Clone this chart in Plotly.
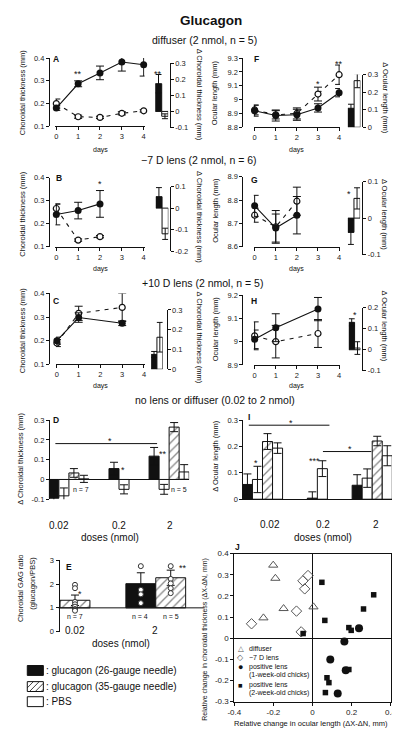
import plotly.graph_objects as go

W, H = 400, 729
FONT = "Liberation Sans, Arial, DejaVu Sans, sans-serif"
INK = "#111111"
GRAY = "#555555"

# ======================= DATA =======================
day_ticks = [0, 1, 2, 3, 4]
day_labels = ["0", "1", "2", "3", "4"]

# --- A: diffuser, choroidal thickness (mm)
A_days = [0, 1, 2, 3, 4]
A_glu = [0.180, 0.287, 0.335, 0.383, 0.371]
A_glu_err = [0.010, 0.013, 0.030, 0.040, 0.050]
A_pbs = [0.200, 0.142, 0.139, 0.157, 0.168]
A_pbs_err = [0.020, 0.007, 0.005, 0.007, 0.005]
A_yt = [0.1, 0.2, 0.3, 0.4]
A_ytl = ["0.1", "0.2", "0.3", "0.4"]
A_stars = [(1, 0.339, "**"), (2, 0.415, "***"), (3, 0.441, "***"), (4, 0.432, "***")]
A_delta = [0.172, -0.030]
A_delta_err = [0.057, 0.015]
A_dyt = [-0.1, 0, 0.1, 0.2, 0.3]
A_dytl = ["-0.1", "0", "0.1", "0.2", "0.3"]
A_dstars = [(-0.15, 0.246, "**")]

# --- F: diffuser, ocular length (mm)
F_days = [0, 1, 2, 3, 4]
F_glu = [8.920, 8.885, 8.890, 8.940, 9.050]
F_glu_err = [0.040, 0.040, 0.040, 0.030, 0.030]
F_pbs = [8.925, 8.890, 8.900, 9.040, 9.180]
F_pbs_err = [0.035, 0.030, 0.040, 0.050, 0.070]
F_yt = [8.8, 8.9, 9.0, 9.1, 9.2, 9.3]
F_ytl = ["8.8", "8.9", "9", "9.1", "9.2", "9.3"]
F_stars = [(3, 9.13, "*"), (4, 9.27, "**")]
F_delta = [0.108, 0.265]
F_delta_err = [0.023, 0.040]
F_dyt = [0, 0.1, 0.2, 0.3]
F_dytl = ["0", "0.1", "0.2", "0.3"]
F_dstars = [(-0.1, 0.309, "*")]

# --- B: -7 D lens, choroidal thickness
B_days = [0, 1, 2]
B_glu = [0.240, 0.257, 0.286]
B_glu_err = [0.045, 0.036, 0.058]
B_pbs = [0.266, 0.129, 0.144]
B_pbs_err = [0.020, 0.005, 0.005]
B_stars = [(2, 0.379, "*")]
B_delta = [0.053, -0.119]
B_delta_err = [0.042, 0.026]
B_dyt = [-0.2, -0.1, 0, 0.1]
B_dytl = ["-0.2", "-0.1", "0", "0.1"]
B_dstars = [(0.95, 0.14, "**")]

# --- G: -7 D lens, ocular length
G_days = [0, 1, 2]
G_glu = [8.775, 8.680, 8.735]
G_glu_err = [0.045, 0.060, 0.080]
G_pbs = [8.735, 8.685, 8.795]
G_pbs_err = [0.030, 0.070, 0.060]
G_yt = [8.6, 8.7, 8.8, 8.9]
G_ytl = ["8.6", "8.7", "8.8", "8.9"]
G_stars = []
G_delta = [-0.039, 0.054]
G_delta_err = [0.033, 0.029]
G_dyt = [-0.1, 0, 0.1]
G_dytl = ["-0.1", "0", "0.1"]
G_dstars = [(-0.35, 0.072, "*")]

# --- C: +10 D lens, choroidal thickness
C_days = [0, 1, 3]
C_glu = [0.200, 0.298, 0.274]
C_glu_err = [0.015, 0.020, 0.010]
C_pbs = [0.190, 0.316, 0.341]
C_pbs_err = [0.015, 0.030, 0.060]
C_stars = []
C_delta = [0.075, 0.162]
C_delta_err = [0.015, 0.075]
C_dyt = [0, 0.1, 0.2, 0.3]
C_dytl = ["0", "0.1", "0.2", "0.3"]
C_dstars = []

# --- H: +10 D lens, ocular length
H_days = [0, 1, 3]
H_glu = [9.010, 9.060, 9.140]
H_glu_err = [0.040, 0.060, 0.050]
H_pbs = [9.025, 9.000, 9.035]
H_pbs_err = [0.060, 0.070, 0.060]
H_yt = [8.9, 9.0, 9.1, 9.2]
H_ytl = ["8.9", "9", "9.1", "9.2"]
H_stars = []
H_delta = [0.130, 0.008]
H_delta_err = [0.017, 0.030]
H_dyt = [-0.1, 0, 0.1, 0.2]
H_dytl = ["-0.1", "0", "0.1", "0.2"]
H_dstars = [(0.65, 0.174, "*")]

# --- D: dose response, delta choroidal thickness (mm)
doses3 = ["0.02", "0.2", "2"]
D_glu26 = [-0.095, 0.055, 0.118]
D_glu26_err = [0.038, 0.032, 0.044]
D_pbs26 = [-0.083, -0.050, -0.050]
D_pbs26_err = [0.040, 0.023, 0.025]
D_glu35 = [0.033, None, 0.265]
D_glu35_err = [0.022, 0, 0.023]
D_pbs35 = [0.003, None, 0.038]
D_pbs35_err = [0.018, 0, 0.037]
D_yt = [-0.1, 0, 0.1, 0.2, 0.3]
D_ytl = ["-0.1", "0", "0.1", "0.2", "0.3"]
D_stars = [(1.08, 0.058, "*"), (1.87, 0.1415, "**"), (2.48, 0.2765, "**"),
           (0.82, 0.2065, "*"), (1.145, 0.333, "**")]
D_siglines = [(-0.27, 1.76, 0.1815), (0.24, 2.21, 0.32)]
D_nlabels = [(-0.32, -0.155, "n = 7"), (0.236, -0.05, "n = 7"), (1.01, -0.117, "n = 5"),
             (1.758, -0.117, "n = 4"), (2.207, -0.05, "n = 5")]

# --- I: dose response, delta ocular length (mm)
I_glu26 = [0.056, 0.004, 0.053]
I_glu26_err = [0.040, 0.024, 0.040]
I_pbs26 = [0.075, 0.116, 0.080]
I_pbs26_err = [0.050, 0.030, 0.035]
I_glu35 = [0.219, None, 0.221]
I_glu35_err = [0.030, 0, 0.018]
I_pbs35 = [0.194, None, 0.165]
I_pbs35_err = [0.020, 0, 0.038]
I_yt = [0, 0.1, 0.2, 0.3]
I_ytl = ["0", "0.1", "0.2", "0.3"]
I_stars = [(-0.12, 0.146, "*"), (0.956, 0.152, "***"), (0.527, 0.296, "*"), (1.603, 0.2, "*")]
I_siglines = [(-0.249, 1.22, 0.281), (1.102, 1.984, 0.181)]
I_nlabels = [(-0.16, -0.0315, "n = 7"), (0.263, -0.0315, "n = 7"), (1.132, -0.021, "n = 5"),
             (1.78, -0.0315, "n = 4"), (2.13, -0.0315, "n = 5")]

# --- E: choroidal GAG ratio (glucagon/PBS)
doses2 = ["0.02", "2"]
E_glu26 = [None, 2.02]
E_glu26_err = [0, 0.46]
E_glu35 = [1.32, 2.27]
E_glu35_err = [0.22, 0.32]
E_pts_002_35 = [1.97, 1.83, 1.25, 1.15, 1.05, 0.95, 0.88]
E_pts_2_26 = [2.76, 1.76, 1.57, 1.20]
E_pts_2_35 = [2.76, 2.22, 2.03, 1.83, 1.62]
E_yt = [0, 1, 2, 3]
E_ytl = ["0", "1", "2", "3"]
E_stars = [(0.056, 1.65, "*"), (0.895, 1.72, "*"), (1.333, 2.76, "**")]
E_nlabels = [(0.0, 0.65, "n = 7"), (0.806, 0.65, "n = 4"), (1.194, 0.65, "n = 5")]

# --- J: relative change scatter
J_diff_x = [-0.201, -0.190, -0.148, -0.251, 0.005]
J_diff_y = [0.345, 0.283, 0.140, 0.096, 0.148]
J_neg7_x = [-0.023, -0.049, -0.040, -0.082, -0.312, -0.058]
J_neg7_y = [0.296, 0.271, 0.233, 0.128, 0.068, 0.030]
J_pos1_x = [0.163, 0.238, 0.091, 0.170, 0.129]
J_pos1_y = [-0.016, 0.047, -0.101, -0.152, -0.261]
J_pos2_x = [0.048, 0.313, 0.261, 0.063, 0.186, 0.198, -0.048, 0.074, 0.084, 0.186, 0.066]
J_pos2_y = [0.264, 0.205, 0.138, 0.084, 0.050, 0.037, 0.022, -0.187, -0.210, -0.148, -0.257]
J_xt = [-0.4, -0.2, 0, 0.2, 0.4]
J_xtl = ["-0.4", "-0.2", "0", "0.2", "0.4"]
J_yt = [-0.3, -0.2, -0.1, 0, 0.1, 0.2, 0.3, 0.4]
J_ytl = ["-0.3", "-0.2", "-0.1", "0", "0.1", "0.2", "0.3", "0.4"]

# ======================= FIGURE =======================
fig = go.Figure()
layout = {}
ann = []
shapes = []
_n = [0]


def new_pair():
    _n[0] += 1
    return "" if _n[0] == 1 else str(_n[0])


def tfont(size=7.5, color="#222222"):
    return dict(family=FONT, size=size, color=color)


def axis_common(size=7.5):
    return dict(showgrid=False, zeroline=False, showline=True, linecolor=INK, linewidth=1,
                ticks="outside", ticklen=3, tickwidth=1, tickcolor=INK, tickfont=tfont(size),
                fixedrange=True, tickmode="array")


def ydom(top, bot):
    return [1 - bot / H, 1 - top / H]


def txt(x, y, text, size=7.5, angle=0, bold=False, xanchor="center", yanchor="middle", color="#111111"):
    ann.append(dict(x=x / W, y=1 - y / H, xref="paper", yref="paper",
                    text=f"<b>{text}</b>" if bold else text, showarrow=False,
                    font=dict(family=FONT, size=size, color=color), textangle=angle,
                    xanchor=xanchor, yanchor=yanchor))


def dtxt(s, x, y, text, size=9, yshift=-2):
    ann.append(dict(x=x, y=y, xref="x" + s, yref="y" + s, text=text, showarrow=False,
                    font=dict(family=FONT, size=size, color="#111111"), yshift=yshift))


def line_panel(g, days, glu, glu_err, pbs, pbs_err, yt, ytl, stars):
    s = new_pair()
    ppd = (g["x4"] - g["x0"]) / 4
    pad = 0.04
    xa = axis_common()
    xa.update(domain=[(g["x0"] - pad * ppd) / W, (g["x4"] + pad * ppd) / W], range=[-pad, 4 + pad],
              tickvals=day_ticks, ticktext=day_labels, anchor="y" + s)
    ya = axis_common()
    ya.update(domain=ydom(g["ytop"], g["ybot"]), range=g["yr"], tickvals=yt, ticktext=ytl,
              anchor="free", position=g["yax"] / W)
    layout["xaxis" + s] = xa
    layout["yaxis" + s] = ya
    fig.add_trace(go.Scatter(
        x=days, y=pbs, mode="lines+markers", xaxis="x" + s, yaxis="y" + s, cliponaxis=False,
        error_y=dict(type="data", array=pbs_err, color=INK, thickness=1, width=4),
        line=dict(color=INK, width=1.1, dash="4px,5px"),
        marker=dict(symbol="circle", size=6, color="white", line=dict(color=INK, width=1.2)),
        showlegend=False, hoverinfo="skip"))
    fig.add_trace(go.Scatter(
        x=days, y=glu, mode="lines+markers", xaxis="x" + s, yaxis="y" + s, cliponaxis=False,
        error_y=dict(type="data", array=glu_err, color=INK, thickness=1, width=4),
        line=dict(color=INK, width=1.1),
        marker=dict(symbol="circle", size=7, color=INK),
        showlegend=False, hoverinfo="skip"))
    for (xx, yy, t) in stars:
        dtxt(s, xx, yy, t)


def inset(g, vals, errs, yt, ytl, stars):
    s = new_pair()
    layout["xaxis" + s] = dict(domain=[g["bx0"] / W, g["bx1"] / W], range=[-0.5, 1.5], visible=False,
                               anchor="y" + s, fixedrange=True)
    ya = axis_common()
    ya.update(domain=ydom(g["ytop"], g["ybot"]), range=g["yr"], tickvals=yt, ticktext=ytl,
              side="right", anchor="free", position=g["ax"] / W)
    layout["yaxis" + s] = ya
    fig.add_trace(go.Bar(
        x=[0, 1], y=vals, width=1, xaxis="x" + s, yaxis="y" + s, cliponaxis=False,
        marker=dict(color=[INK, "white"], line=dict(color=INK, width=1)),
        error_y=dict(type="data", array=errs, color=INK, thickness=1, width=3),
        showlegend=False, hoverinfo="skip"))
    for (xx, yy, t) in stars:
        dtxt(s, xx, yy, t)


# ---------- line panels + insets ----------
geo_line = {
    "A": dict(x0=42.7, x4=133, yax=35, ytop=46.7, ybot=115.7, yr=[0.1, 0.4]),
    "F": dict(x0=247.7, x4=335, yax=235, ytop=46.7, ybot=116.7, yr=[8.8, 9.3]),
    "B": dict(x0=42.7, x4=133, yax=35, ytop=167.7, ybot=237.7, yr=[0.1, 0.4]),
    "G": dict(x0=247.7, x4=335, yax=235, ytop=166.7, ybot=237.7, yr=[8.6, 8.9]),
    "C": dict(x0=43.3, x4=133.3, yax=35, ytop=285, ybot=356.7, yr=[0.1, 0.4]),
    "H": dict(x0=247.7, x4=335, yax=235, ytop=286.7, ybot=357.3, yr=[8.9, 9.2]),
}
geo_inset = {
    "A": dict(bx0=145, bx1=158.3, ax=160, ytop=51.7, ybot=117, yr=[-0.1, 0.3]),
    "F": dict(bx0=344, bx1=357, ax=359, ytop=63.3, ybot=116.7, yr=[0, 0.3]),
    "B": dict(bx0=145.5, bx1=158.5, ax=160, ytop=176.7, ybot=242.3, yr=[-0.2, 0.1]),
    "G": dict(bx0=344, bx1=356.7, ax=359, ytop=171.7, ybot=245.7, yr=[-0.1, 0.1]),
    "C": dict(bx0=140.7, bx1=152.7, ax=156.7, ytop=301.7, ybot=361.7, yr=[0, 0.3]),
    "H": dict(bx0=345, bx1=357, ax=359, ytop=299.3, ybot=363.3, yr=[-0.1, 0.2]),
}

line_panel(geo_line["A"], A_days, A_glu, A_glu_err, A_pbs, A_pbs_err, A_yt, A_ytl, A_stars)
inset(geo_inset["A"], A_delta, A_delta_err, A_dyt, A_dytl, A_dstars)
line_panel(geo_line["F"], F_days, F_glu, F_glu_err, F_pbs, F_pbs_err, F_yt, F_ytl, F_stars)
inset(geo_inset["F"], F_delta, F_delta_err, F_dyt, F_dytl, F_dstars)
line_panel(geo_line["B"], B_days, B_glu, B_glu_err, B_pbs, B_pbs_err, A_yt, A_ytl, B_stars)
inset(geo_inset["B"], B_delta, B_delta_err, B_dyt, B_dytl, B_dstars)
line_panel(geo_line["G"], G_days, G_glu, G_glu_err, G_pbs, G_pbs_err, G_yt, G_ytl, G_stars)
inset(geo_inset["G"], G_delta, G_delta_err, G_dyt, G_dytl, G_dstars)
line_panel(geo_line["C"], C_days, C_glu, C_glu_err, C_pbs, C_pbs_err, A_yt, A_ytl, C_stars)
inset(geo_inset["C"], C_delta, C_delta_err, C_dyt, C_dytl, C_dstars)
line_panel(geo_line["H"], H_days, H_glu, H_glu_err, H_pbs, H_pbs_err, H_yt, H_ytl, H_stars)
inset(geo_inset["H"], H_delta, H_delta_err, H_dyt, H_dytl, H_dstars)


# ---------- grouped dose bar panels ----------
def slot_positions(series_list, w):
    """x positions for each series: bars present in a group are centred on the group."""
    ngroups = len(series_list[0])
    pos = [[None] * ngroups for _ in series_list]
    for gi in range(ngroups):
        present = [si for si, ser in enumerate(series_list) if ser[gi] is not None]
        k = len(present)
        for j, si in enumerate(present):
            pos[si][gi] = gi + (j - (k - 1) / 2) * w
    return pos


def bar_style(kind):
    if kind == "black":
        return dict(color=INK, line=dict(color=INK, width=1))
    if kind == "hatch":
        return dict(color="white", line=dict(color=INK, width=1),
                    pattern=dict(shape="/", fgcolor=INK, bgcolor="white", size=6, solidity=0.22))
    return dict(color="white", line=dict(color=INK, width=1))


def dose_panel(g, series, errs, kinds, yt, ytl, w, base=None, bottom_line=False, zeroline=False):
    s = new_pair()
    xa = dict(domain=[g["x0"] / W, g["x1"] / W], range=g["xr"], anchor="y" + s, fixedrange=True,
              showgrid=False, zeroline=False, showticklabels=False, ticks="",
              showline=bottom_line, linecolor=INK, linewidth=1)
    ya = axis_common()
    ya.update(domain=ydom(g["ytop"], g["ybot"]), range=g["yr"], tickvals=yt, ticktext=ytl,
              anchor="free", position=g["yax"] / W, zeroline=zeroline, zerolinecolor=INK,
              zerolinewidth=1)
    layout["xaxis" + s] = xa
    layout["yaxis" + s] = ya
    pos = slot_positions(series, w)
    for ser, er, kind, xs in zip(series, errs, kinds, pos):
        xv = [x for x, v in zip(xs, ser) if v is not None]
        yv = [v for v in ser if v is not None]
        ev = [e for e, v in zip(er, ser) if v is not None]
        if base is not None:
            yv = [v - base for v in yv]
        fig.add_trace(go.Bar(
            x=xv, y=yv, width=w, base=base, xaxis="x" + s, yaxis="y" + s, cliponaxis=False,
            marker=bar_style(kind),
            error_y=dict(type="data", array=ev, color=INK, thickness=1, width=4),
            showlegend=False, hoverinfo="skip"))
    return s, pos


geoD = dict(x0=35, x1=180, xr=[-0.4, 2.4], yax=35, ytop=413.3, ybot=493.3, yr=[-0.1, 0.3])
sD, _ = dose_panel(geoD, [D_glu26, D_pbs26, D_glu35, D_pbs35],
                   [D_glu26_err, D_pbs26_err, D_glu35_err, D_pbs35_err],
                   ["black", "white", "hatch", "white"], D_yt, D_ytl, 0.2, zeroline=True)
for (x0, x1, yy) in D_siglines:
    shapes.append(dict(type="line", xref="x" + sD, yref="y" + sD, x0=x0, x1=x1, y0=yy, y1=yy,
                       line=dict(color=INK, width=1)))
for (xx, yy, t) in D_stars:
    dtxt(sD, xx, yy, t)
for (xx, yy, t) in D_nlabels:
    dtxt(sD, xx, yy, t, size=7, yshift=0)

geoI = dict(x0=235, x1=392, xr=[-0.367, 2.402], yax=235, ytop=413.3, ybot=493.3, yr=[0, 0.3])
sI, _ = dose_panel(geoI, [I_glu26, I_pbs26, I_glu35, I_pbs35],
                   [I_glu26_err, I_pbs26_err, I_glu35_err, I_pbs35_err],
                   ["black", "white", "hatch", "white"], I_yt, I_ytl, 0.183, bottom_line=True)
for (x0, x1, yy) in I_siglines:
    shapes.append(dict(type="line", xref="x" + sI, yref="y" + sI, x0=x0, x1=x1, y0=yy, y1=yy,
                       line=dict(color=INK, width=1)))
for (xx, yy, t) in I_stars:
    dtxt(sI, xx, yy, t)
for (xx, yy, t) in I_nlabels:
    dtxt(sI, xx, yy, t, size=7, yshift=0)

geoE = dict(x0=45, x1=195, xr=[-0.2036, 1.593], yax=45, ytop=555.3, ybot=627.3, yr=[0, 3])
wE = 0.37
sE, posE = dose_panel(geoE, [E_glu26, E_glu35], [E_glu26_err, E_glu35_err], ["black", "hatch"],
                      E_yt, E_ytl, wE, base=1)
shapes.append(dict(type="line", xref="x" + sE + " domain", yref="y" + sE, x0=0, x1=1, y0=1, y1=1,
                   line=dict(color=INK, width=1)))
pt_groups = [(posE[1][0], E_pts_002_35), (posE[0][1], E_pts_2_26), (posE[1][1], E_pts_2_35)]
for xc, pts in pt_groups:
    fig.add_trace(go.Scatter(
        x=[xc] * len(pts), y=pts, mode="markers", xaxis="x" + sE, yaxis="y" + sE, cliponaxis=False,
        marker=dict(symbol="circle", size=5, color="white", line=dict(color="#333333", width=1)),
        showlegend=False, hoverinfo="skip"))
for (xx, yy, t) in E_stars:
    dtxt(sE, xx, yy, t)
for (xx, yy, t) in E_nlabels:
    dtxt(sE, xx, yy, t, size=7, yshift=0)

# ---------- J scatter ----------
sJ = new_pair()
xaJ = axis_common(8)
xaJ.update(domain=[226.7 / W, 388.3 / W], range=[-0.4, 0.4], tickvals=J_xt, ticktext=J_xtl,
           mirror=True, zeroline=True, zerolinecolor=INK, zerolinewidth=1, anchor="y" + sJ)
yaJ = axis_common(8)
yaJ.update(domain=ydom(548.3, 698.3), range=[-0.3, 0.4], tickvals=J_yt, ticktext=J_ytl,
           mirror=True, zeroline=True, zerolinecolor=INK, zerolinewidth=1, anchor="x" + sJ)
layout["xaxis" + sJ] = xaJ
layout["yaxis" + sJ] = yaJ
j_series = [
    (J_diff_x, J_diff_y, dict(symbol="triangle-up-open", size=8, color=GRAY, line=dict(width=1))),
    (J_neg7_x, J_neg7_y, dict(symbol="diamond-open", size=8, color=GRAY, line=dict(width=1))),
    (J_pos1_x, J_pos1_y, dict(symbol="circle", size=8, color=INK)),
    (J_pos2_x, J_pos2_y, dict(symbol="square", size=5.5, color=INK)),
]
for xs, ys, mk in j_series:
    fig.add_trace(go.Scatter(x=xs, y=ys, mode="markers", marker=mk, xaxis="x" + sJ, yaxis="y" + sJ,
                             cliponaxis=False, showlegend=False, hoverinfo="skip"))

# ======================= TEXT =======================
txt(203, 9, "Glucagon", size=13.5, bold=True)
txt(196, 28, "diffuser (2 nmol, n = 5)", size=10.5)
txt(190, 150, "\u22127 D lens (2 nmol, n = 6)", size=10.5)
txt(194, 274, "+10 D lens (2 nmol, n = 5)", size=10.5)
txt(207, 393.3, "no lens or diffuser (0.02 to 2 nmol)", size=10.5)

for letter, x, y in [("A", 42, 48), ("F", 250, 48), ("B", 45, 168.3), ("G", 247.5, 170),
                     ("C", 42, 292.7), ("H", 247.5, 292.7), ("D", 42, 413.3), ("I", 241.7, 410),
                     ("E", 56, 561.7), ("J", 230, 541.7)]:
    txt(x, y, letter, size=8.5, bold=True)

for x, y in [(88.3, 139.3), (291, 140), (88.3, 260), (291, 260), (88.3, 379), (291, 379)]:
    txt(x, y, "days", size=7)

for y in [81, 204, 322]:
    txt(7.5, y, "Choroidal thickness (mm)", size=7.5, angle=-90)
for y in [82, 201, 321]:
    txt(207, y, "Ocular length (mm)", size=7.5, angle=-90)
for y in [84, 208, 330]:
    txt(190.5, y, "\u0394 Choroidal thickness (mm)", size=7.5, angle=90)
for y in [87, 205, 318]:
    txt(382, y, "\u0394 Ocular length (mm)", size=7.5, angle=90)

txt(5.5, 452, "\u0394 Choroidal thickness (mm)", size=7.5, angle=-90)
txt(207, 450, "\u0394 Ocular length (mm)", size=7.5, angle=-90)
txt(6.5, 583, "Choroidal GAG ratio", size=7.5, angle=-90)
txt(18.5, 578, "(glucagon/PBS)", size=7.5, angle=-90)

dose_x_D = [45, 107.5, 160]
dose_x_I = [263.3, 318.3, 373.3]
for d, x in zip(doses3, dose_x_D):
    txt(x, 520, d, size=10)
for d, x in zip(doses3, dose_x_I):
    txt(x, 519, d, size=10)
for d, x in zip(doses2, [61.7, 145]):
    txt(x, 626.7, d, size=10)
txt(98.3, 531.7, "doses (nmol)", size=10)
txt(318.3, 532.3, "doses (nmol)", size=10)
txt(110, 639, "doses (nmol)", size=10)

txt(306, 720.7, "Relative change in ocular length (\u0394X-\u0394N, mm)", size=7.5)
txt(197, 635, "Relative change in choroidal thickness (\u0394X-\u0394N, mm)", size=7, angle=-90)

# J legend
txt(233.3, 644, "\u25b3", size=7.5, color=GRAY)
txt(239.3, 644, "diffuser", size=7, xanchor="left")
txt(233.3, 654, "\u25c7", size=8, color=GRAY)
txt(239.3, 654, "\u22127 D lens", size=7, xanchor="left")
txt(233.3, 663.3, "\u25cf", size=9)
txt(239.3, 663.3, "positive lens", size=7, xanchor="left")
txt(239.3, 671, "(1-week-old chicks)", size=7, xanchor="left")
txt(233.3, 681.7, "\u25a0", size=7.5)
txt(239.3, 681.7, "positive lens", size=7, xanchor="left")
txt(239.3, 689.5, "(2-week-old chicks)", size=7, xanchor="left")


# D/E/I legend
def prect(x0, y0, x1, y1, fill):
    shapes.append(dict(type="rect", xref="paper", yref="paper", x0=x0 / W, x1=x1 / W,
                       y0=1 - y1 / H, y1=1 - y0 / H, fillcolor=fill, line=dict(color=INK, width=1)))


prect(12.7, 661.7, 29.3, 671.7, INK)
prect(12.7, 678, 29.3, 688, "white")
prect(12.7, 693.3, 29.3, 703.3, "white")
lx0, lx1, ly0, ly1 = 12.7, 29.3, 678, 688
for c in [9, 15, 21, 27]:
    xs, ys = c, ly1
    xe, ye = c + (ly1 - ly0), ly0
    if xs < lx0:
        ys -= (lx0 - xs)
        xs = lx0
    if xe > lx1:
        ye += (xe - lx1)
        xe = lx1
    shapes.append(dict(type="line", xref="paper", yref="paper", x0=xs / W, x1=xe / W,
                       y0=1 - ys / H, y1=1 - ye / H, line=dict(color=INK, width=0.8)))
txt(30, 666.7, ": glucagon (26-gauge needle)", size=10, xanchor="left")
txt(30, 683, ": glucagon (35-gauge needle)", size=10, xanchor="left")
txt(30, 698.3, ": PBS", size=10, xanchor="left")

layout.update(
    width=W, height=H, autosize=False, margin=dict(l=0, r=0, t=0, b=0),
    paper_bgcolor="white", plot_bgcolor="rgba(0,0,0,0)", showlegend=False,
    annotations=ann, shapes=shapes, barmode="overlay", font=dict(family=FONT, color="#111111"),
)
fig.update_layout(**layout)
fig.write_html("out.html")
